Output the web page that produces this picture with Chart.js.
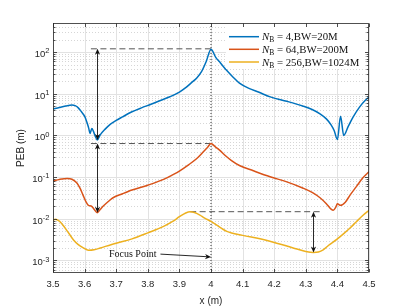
<!DOCTYPE html>
<html><head><meta charset="utf-8">
<script src="https://cdn.jsdelivr.net/npm/chart.js@4.4.1/dist/chart.umd.min.js"></script>
<style>html,body{margin:0;padding:0;background:#fff;overflow:hidden}</style>
</head><body>
<canvas id="c" width="409" height="307" style="width:409px;height:307px"></canvas>
<script>
// ---- data ----
const blueX = [3.50,3.52,3.54,3.56,3.57,3.58,3.59,3.60,3.607,3.613,3.617,3.623,3.628,3.634,3.64,3.65,3.665,3.68,3.70,3.72,3.75,3.78,3.81,3.84,3.87,3.90,3.92,3.94,3.955,3.97,3.985,4.0,4.015,4.03,4.05,4.07,4.09,4.12,4.15,4.19,4.24,4.29,4.32,4.345,4.365,4.38,4.39,4.40,4.41,4.42,4.435,4.45,4.47,4.49,4.50];
const blueY = [4.3,4.7,5.1,5.4,5.2,4.6,3.7,2.9,2.1,1.5,1.12,1.47,1.25,0.95,0.78,1.05,1.42,1.82,2.3,2.8,3.7,4.6,5.6,6.9,8.5,11,14,19,24,34,60,118,75,55,36,25,18,13.5,11,8.3,6.6,5.1,4.2,3.3,2.5,1.8,1.3,0.80,2.9,1.0,1.7,2.8,4.8,7.2,8.3];
const orangeX = [3.50,3.52,3.545,3.56,3.575,3.585,3.595,3.605,3.612,3.622,3.63,3.64,3.65,3.66,3.675,3.69,3.72,3.75,3.80,3.85,3.88,3.90,3.93,3.955,3.975,3.99,4.0,4.013,4.028,4.045,4.065,4.09,4.134,4.187,4.24,4.29,4.32,4.345,4.365,4.38,4.387,4.395,4.40,4.41,4.425,4.44,4.46,4.48,4.50];
const orangeY = [0.081,0.088,0.093,0.089,0.073,0.055,0.037,0.025,0.021,0.020,0.017,0.014,0.017,0.0205,0.026,0.032,0.040,0.049,0.064,0.088,0.115,0.14,0.20,0.28,0.40,0.53,0.64,0.54,0.44,0.33,0.25,0.19,0.142,0.102,0.077,0.055,0.043,0.032,0.023,0.017,0.016,0.019,0.023,0.021,0.025,0.037,0.059,0.095,0.135];
const yellowX = [3.50,3.507,3.52,3.533,3.55,3.565,3.58,3.596,3.612,3.63,3.65,3.70,3.75,3.80,3.85,3.88,3.90,3.92,3.934,3.95,3.965,3.98,4.0,4.05,4.10,4.155,4.208,4.26,4.30,4.324,4.34,4.355,4.375,4.398,4.42,4.44,4.46,4.482,4.50];
const yellowY = [0.0092,0.0097,0.0088,0.0068,0.0045,0.0031,0.0024,0.0020,0.00175,0.0018,0.0020,0.0026,0.0033,0.0046,0.0066,0.0088,0.0112,0.0138,0.0148,0.0140,0.0123,0.0104,0.0087,0.0050,0.0040,0.0033,0.0026,0.0020,0.00165,0.00156,0.0016,0.0018,0.0024,0.0032,0.0044,0.0060,0.0085,0.0123,0.016];

const seriesColors = ['#0072BD','#D95319','#EDB120'];
const legendNB = ['4','64','256'];
const legendBW = ['20M','200M','1024M'];

const xTicks = [3.5,3.6,3.7,3.8,3.9,4.0,4.1,4.2,4.3,4.4,4.5];
const xTickLabels = ['3.5','3.6','3.7','3.8','3.9','4','4.1','4.2','4.3','4.4','4.5'];
const yDecades = [-3,-2,-1,0,1,2];
const yTickExps = ['-3','-2','-1','0','1','2'];
const yGridDecades = [-4,-3,-2,-1,0,1,2];
const yMinorMult = [2,3,4,5,6,7,8,9];
const xRange = [3.5, 4.5];
const yRange = [5e-4, 5e2];

// annotations (data units)
const refLevelY = [120, 0.64, 0.0148];
const refStartX = [3.62, 3.62, 3.934];
const refEndX = [4.0, 4.0, 4.35];
const arrowX = [3.64, 3.64, 4.324];
const arrowTopY = [120, 0.64, 0.0148];
const arrowBotY = [0.78, 0.014, 0.00156];
const focusX = 4.0;
const focusLabel = 'Focus Point';
const focusTextX = 3.677, focusTextY = 0.00142;
const focusArrowX = [3.84, 4.0];
const focusArrowY = [0.00142, 0.00121];

const pts = (xa, ya) => xa.map((x, i) => ({x, y: ya[i]}));

const datasets = [
  {data: pts(blueX, blueY), borderColor: seriesColors[0]},
  {data: pts(orangeX, orangeY), borderColor: seriesColors[1]},
  {data: pts(yellowX, yellowY), borderColor: seriesColors[2]},
].map(d => Object.assign(d, {borderWidth: 1.5, pointRadius: 0, cubicInterpolationMode: 'monotone', fill: false}));

refLevelY.forEach((lv, i) => datasets.push({
  data: [{x: refStartX[i], y: lv}, {x: refEndX[i], y: lv}],
  borderColor: '#555', borderWidth: 1, borderDash: [6, 3.5], pointRadius: 0, fill: false
}));
datasets.push({
  data: [{x: focusX, y: yRange[0]}, {x: focusX, y: yRange[1]}],
  borderColor: '#333', borderWidth: 1, borderDash: [1, 2], pointRadius: 0, fill: false
});

function head(ctx, x, y, dx, dy, L, W) {
  const n = Math.hypot(dx, dy); dx /= n; dy /= n;
  const px = -dy, py = dx;
  ctx.beginPath();
  ctx.moveTo(x, y);
  ctx.lineTo(x - dx * L + px * W, y - dy * L + py * W);
  ctx.lineTo(x - dx * L * 0.7, y - dy * L * 0.7);
  ctx.lineTo(x - dx * L - px * W, y - dy * L - py * W);
  ctx.closePath(); ctx.fill();
}

const deco = {
  id: 'deco',
  beforeDatasetsDraw(chart) {
    const {ctx, chartArea: a, scales: {x: xs, y: ys}} = chart;
    ctx.save();
    ctx.lineWidth = 1;
    ctx.strokeStyle = '#d6d6d6'; ctx.setLineDash([1, 2]);
    yGridDecades.forEach(d => yMinorMult.forEach(m => {
      const v = m * Math.pow(10, d);
      if (v <= yRange[0] || v >= yRange[1]) return;
      const y = Math.round(ys.getPixelForValue(v)) + 0.5;
      ctx.beginPath(); ctx.moveTo(a.left, y); ctx.lineTo(a.right, y); ctx.stroke();
    }));
    ctx.setLineDash([]); ctx.strokeStyle = '#e2e2e2';
    xTicks.forEach(v => {
      const x = Math.round(xs.getPixelForValue(v)) + 0.5;
      ctx.beginPath(); ctx.moveTo(x, a.top); ctx.lineTo(x, a.bottom); ctx.stroke();
    });
    yDecades.forEach(d => {
      const y = Math.round(ys.getPixelForValue(Math.pow(10, d))) + 0.5;
      ctx.beginPath(); ctx.moveTo(a.left, y); ctx.lineTo(a.right, y); ctx.stroke();
    });
    ctx.restore();
  },
  afterDatasetsDraw(chart) {
    const {ctx, chartArea: a, scales: {x: xs, y: ys}} = chart;
    const X = v => xs.getPixelForValue(v), Y = v => ys.getPixelForValue(v);
    ctx.save();
    // double arrows
    ctx.strokeStyle = '#111'; ctx.fillStyle = '#111'; ctx.lineWidth = 0.9;
    arrowX.forEach((ax, i) => {
      const x = Math.round(X(ax)) + 0.5, y1 = Y(arrowTopY[i]), y2 = Y(arrowBotY[i]);
      ctx.beginPath(); ctx.moveTo(x, y1 + 3); ctx.lineTo(x, y2 - 3); ctx.stroke();
      head(ctx, x, y1, 0, -1, 6, 2.6);
      head(ctx, x, y2, 0, 1, 6, 2.6);
    });
    // focus point label + arrow
    ctx.font = '10px "Liberation Serif", "Times New Roman", serif';
    ctx.fillStyle = '#111'; ctx.textBaseline = 'middle'; ctx.textAlign = 'left';
    ctx.fillText(focusLabel, X(focusTextX), Y(focusTextY));
    const fx1 = X(focusArrowX[0]), fy1 = Y(focusArrowY[0]), fx2 = X(focusArrowX[1]), fy2 = Y(focusArrowY[1]);
    ctx.beginPath(); ctx.moveTo(fx1, fy1); ctx.lineTo(fx2 - 4, fy2 - 0.3); ctx.stroke();
    head(ctx, fx2, fy2, fx2 - fx1, fy2 - fy1, 6, 2.6);
    // legend
    const lx0 = 229, lx1 = 259, tx = 262, rows = [36.7, 49.3, 62];
    ctx.fillStyle = '#fff';
    ctx.fillRect(226, 27, 139, 42);
    rows.forEach((ry, i) => {
      ctx.strokeStyle = seriesColors[i]; ctx.lineWidth = 1.5;
      ctx.beginPath(); ctx.moveTo(lx0, ry); ctx.lineTo(lx1, ry); ctx.stroke();
      ctx.fillStyle = '#111'; ctx.textBaseline = 'alphabetic';
      let x = tx; const base = ry + 3.6;
      ctx.font = 'italic 10.8px "Liberation Serif", serif';
      ctx.fillText('N', x, base); x += ctx.measureText('N').width;
      ctx.font = '7.5px "Liberation Serif", serif';
      ctx.fillText('B', x, base + 2); x += ctx.measureText('B').width;
      ctx.font = '10.8px "Liberation Serif", serif';
      ctx.fillText(' = ' + legendNB[i] + ',BW=' + legendBW[i], x, base);
    });
    ctx.restore();
  },
  afterDraw(chart) {
    const {ctx, chartArea: a, scales: {x: xs, y: ys}} = chart;
    ctx.save();
    const L = Math.round(a.left) + 0.5, R = Math.round(a.right) - 0.5, T = Math.round(a.top) + 0.5, B = Math.round(a.bottom) - 0.5;
    ctx.strokeStyle = '#262626'; ctx.lineWidth = 0.8;
    ctx.strokeRect(L, T, R - L, B - T);
    ctx.beginPath();
    xTicks.forEach(v => {
      const x = Math.round(xs.getPixelForValue(v)) + 0.5;
      ctx.moveTo(x, B); ctx.lineTo(x, B - 3.5);
      ctx.moveTo(x, T); ctx.lineTo(x, T + 3.5);
    });
    yGridDecades.forEach(d => {
      const major = Math.pow(10, d);
      if (major > yRange[0] && major < yRange[1]) {
        const y = Math.round(ys.getPixelForValue(major)) + 0.5;
        ctx.moveTo(L, y); ctx.lineTo(L + 3.5, y); ctx.moveTo(R, y); ctx.lineTo(R - 3.5, y);
      }
      yMinorMult.forEach(m => {
        const v = m * major;
        if (v <= yRange[0] || v >= yRange[1]) return;
        const y = Math.round(ys.getPixelForValue(v)) + 0.5;
        ctx.moveTo(L, y); ctx.lineTo(L + 2, y); ctx.moveTo(R, y); ctx.lineTo(R - 2, y);
      });
    });
    ctx.stroke();
    // y tick labels 10^k
    ctx.fillStyle = '#262626'; ctx.textBaseline = 'alphabetic'; ctx.textAlign = 'left';
    yDecades.forEach((d, i) => {
      const y = ys.getPixelForValue(Math.pow(10, d));
      ctx.font = '7.5px "Liberation Sans", Arial, sans-serif';
      const ew = ctx.measureText(yTickExps[i]).width;
      ctx.font = '9.5px "Liberation Sans", Arial, sans-serif';
      const bw = ctx.measureText('10').width;
      const xEnd = 49.5;
      ctx.fillText('10', xEnd - ew - bw, y + 4.8);
      ctx.font = '7.5px "Liberation Sans", Arial, sans-serif';
      ctx.fillText(yTickExps[i], xEnd - ew, y + 1.2);
    });
    ctx.restore();
  }
};

new Chart(document.getElementById('c'), {
  type: 'line',
  data: {datasets},
  plugins: [deco],
  options: {
    responsive: false, animation: false, devicePixelRatio: 1,
    layout: {padding: {left: 0, right: 40, top: 23, bottom: 0}},
    plugins: {legend: {display: false}, tooltip: {enabled: false}},
    scales: {
      x: {
        type: 'linear', min: xRange[0], max: xRange[1],
        afterBuildTicks: s => { s.ticks = xTicks.map(v => ({value: v})); },
        afterFit: s => { s.height = 34; },
        grid: {display: false, drawTicks: false}, border: {display: false},
        ticks: {
          color: '#262626', padding: 6, maxRotation: 0, autoSkip: false,
          font: {family: '"Liberation Sans", Arial, sans-serif', size: 9.5},
          callback: (v, i) => xTickLabels[i]
        },
        title: {display: true, text: 'x (m)', color: '#262626', padding: {top: 3, bottom: 0},
          font: {family: '"Liberation Sans", Arial, sans-serif', size: 10}}
      },
      y: {
        type: 'logarithmic', min: yRange[0], max: yRange[1],
        afterFit: s => { s.width = 53; },
        grid: {display: false, drawTicks: false}, border: {display: false},
        ticks: {display: false},
        title: {display: true, text: 'PEB (m)', color: '#262626', padding: {top: 15, bottom: 0},
          font: {family: '"Liberation Sans", Arial, sans-serif', size: 10}}
      }
    }
  }
});
</script>
</body></html>
